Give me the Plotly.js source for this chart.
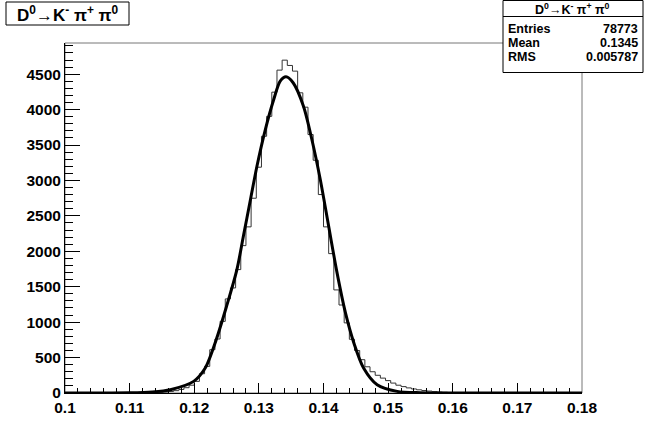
<!DOCTYPE html>
<html>
<head>
<meta charset="utf-8">
<script src="https://cdn.plot.ly/plotly-3.0.1.min.js"></script>
<style>html,body{margin:0;padding:0;background:#fff;}#chart{width:647px;height:438px;}</style>
</head>
<body>
<div id="chart"></div>
<script>
// ---- data ----
const histTitle = "D<sup>0</sup>→K<sup>-</sup> π<sup>+</sup> π<sup>0</sup>";
const xMin = 0.1;
const xMax = 0.18;
const nBins = 100;
const binValues = [
  0,0,0,0,0,0,0,0,0,0,
  0,0,0,0,1,2,4,6,9,14,
  22,33,50,75,110,164,272,376,611,762,
  1011,1328,1483,1742,2080,2345,2749,3187,3624,3905,
  4246,4557,4698,4623,4543,4237,4034,3648,3285,2801,
  2345,1967,1455,1242,990,758,600,470,370,300,
  250,210,175,140,110,90,72,57,45,35,
  27,20,14,10,7,5,3,2,1,0,
  0,0,0,0,0,0,0,0,0,0,
  0,0,0,0,0,0,0,0,0,0
];
const fitX = [0.100,0.105,0.110,0.1135,0.1163,0.1199,0.1217,0.1234,0.1250,0.1266,0.1276,0.1287,0.1297,0.1310,0.1323,0.1333,0.1342,0.1353,0.1369,0.1382,0.1395,0.1408,0.1421,0.1434,0.1447,0.1462,0.1483,0.1514,0.1550,0.1600,0.1700,0.1800];
const fitY = [0,0,3,15,47,164,353,753,1224,1742,2212,2730,3201,3719,4143,4401,4463,4379,4048,3578,3013,2353,1695,1130,706,353,117,23,4,0,0,0];
const statLabels = ["Entries","Mean","RMS"];
const statValues = ["78773","0.1345","0.005787"];
const yMax = 4940;

// ---- build step outline from bins ----
const binW = (xMax - xMin) / nBins;
const stepX = [], stepY = [];
for (let k = 0; k < nBins; k++) { stepX.push(xMin + k * binW); stepY.push(binValues[k]); }
stepX.push(xMax); stepY.push(binValues[nBins - 1]);

// ---- layout geometry ----
const W = 647, H = 438;
const M = {l: 65, r: 65, t: 43, b: 45};
const pw = W - M.l - M.r, ph = H - M.t - M.b;
const px = v => (v - M.l) / pw;
const py = v => (H - M.b - v) / ph;

const font = 'Liberation Sans, Arial, Helvetica, sans-serif';

const traces = [
  {x: stepX, y: stepY, type: 'scatter', mode: 'lines', line: {shape: 'hv', color: '#333', width: 1}, hoverinfo: 'skip'},
  {x: fitX, y: fitY, type: 'scatter', mode: 'lines', line: {shape: 'spline', smoothing: 0.8, color: '#000', width: 3}, hoverinfo: 'skip'}
];

const shapes = [
  // frame
  {type: 'rect', xref: 'paper', yref: 'paper', x0: 0, x1: 1, y0: 0, y1: 1, line: {color: '#777', width: 1}, layer: 'below'},
  // title box
  {type: 'rect', xref: 'paper', yref: 'paper', x0: px(6), x1: px(129), y0: py(25), y1: py(2), line: {color: '#000', width: 1}, fillcolor: '#fff', layer: 'above'},
  // stats box
  {type: 'rect', xref: 'paper', yref: 'paper', x0: px(503), x1: px(643), y0: py(72.5), y1: py(0.5), line: {color: '#000', width: 1}, fillcolor: '#fff', layer: 'above'},
  {type: 'line', xref: 'paper', yref: 'paper', x0: px(503), x1: px(643), y0: py(16.5), y1: py(16.5), line: {color: '#000', width: 1}, layer: 'above'}
];

const annotations = [
  {xref: 'paper', yref: 'paper', x: px(67.5), y: py(14), xanchor: 'center', yanchor: 'middle', showarrow: false,
   text: '<b>' + histTitle + '</b>', font: {family: font, size: 17, color: '#000'}, borderpad: 0},
  {xref: 'paper', yref: 'paper', x: px(572), y: py(8.5), xanchor: 'center', yanchor: 'middle', showarrow: false,
   text: '<b>' + histTitle + '</b>', font: {family: font, size: 12.5, color: '#000'}, borderpad: 0}
];
const rowY = [29, 43, 57];
statLabels.forEach((lab, i) => {
  annotations.push({xref: 'paper', yref: 'paper', x: px(507), y: py(rowY[i]), xanchor: 'left', yanchor: 'middle', showarrow: false,
    text: '<b>' + lab + '</b>', font: {family: font, size: 12.5, color: '#000'}, borderpad: 0});
  annotations.push({xref: 'paper', yref: 'paper', x: px(639), y: py(rowY[i]), xanchor: 'right', yanchor: 'middle', showarrow: false,
    text: '<b>' + statValues[i] + '</b>', font: {family: font, size: 12.5, color: '#000'}, borderpad: 0});
});

const tickFont = {family: font, size: 15.5, color: '#000', weight: 'bold'};

const layout = {
  width: W, height: H,
  margin: M,
  paper_bgcolor: '#fff', plot_bgcolor: '#fff',
  showlegend: false,
  xaxis: {
    range: [xMin, xMax], dtick: 0.01, tick0: 0.1, showgrid: false, zeroline: false,
    ticks: 'inside', ticklen: 10, tickcolor: '#000', tickwidth: 1,
    showline: true, linecolor: '#000', linewidth: 1,
    minor: {dtick: 0.002, tick0: 0.1, ticks: 'inside', ticklen: 5, tickcolor: '#000', tickwidth: 1, showgrid: false},
    tickfont: tickFont
  },
  yaxis: {
    range: [0, yMax], dtick: 500, tick0: 0, showgrid: false, zeroline: false,
    ticks: 'inside', ticklen: 15, tickcolor: '#000', tickwidth: 1,
    showline: true, linecolor: '#000', linewidth: 1,
    minor: {dtick: 100, tick0: 0, ticks: 'inside', ticklen: 8, tickcolor: '#000', tickwidth: 1, showgrid: false},
    tickfont: tickFont
  },
  shapes: shapes,
  annotations: annotations
};

Plotly.newPlot('chart', traces, layout, {staticPlot: true, displayModeBar: false});
</script>
</body>
</html>
